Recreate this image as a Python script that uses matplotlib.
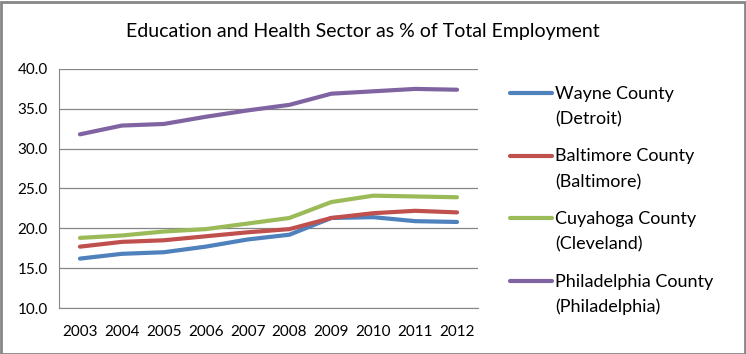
import matplotlib
matplotlib.use("Agg")
import matplotlib.pyplot as plt
from matplotlib.lines import Line2D
from matplotlib.patches import Rectangle

plt.rcParams['font.family'] = ['Lato', 'DejaVu Sans']

years = [2003, 2004, 2005, 2006, 2007, 2008, 2009, 2010, 2011, 2012]
wayne = [16.2, 16.8, 17.0, 17.7, 18.6, 19.2, 21.3, 21.4, 20.9, 20.8]
baltimore = [17.7, 18.3, 18.5, 19.0, 19.5, 19.9, 21.3, 21.9, 22.2, 22.0]
cuyahoga = [18.8, 19.1, 19.6, 19.9, 20.6, 21.3, 23.3, 24.1, 24.0, 23.9]
philadelphia = [31.8, 32.9, 33.1, 34.0, 34.8, 35.5, 36.9, 37.2, 37.5, 37.4]

labels = ["Wayne County\n(Detroit)", "Baltimore County\n(Baltimore)",
          "Cuyahoga County\n(Cleveland)", "Philadelphia County\n(Philadelphia)"]
colors = ["#4F81BD", "#C0504D", "#9BBB59", "#8064A2"]

W, H = 746, 354
fig = plt.figure(figsize=(W / 100, H / 100), dpi=100)
ax = fig.add_axes([59 / W, 1 - 308 / H, (478 - 59) / W, (308 - 69) / H])

x = list(range(len(years)))
for vals, lab, c in zip([wayne, baltimore, cuyahoga, philadelphia], labels, colors):
    ax.plot(x, vals, color=c, lw=3, label=lab, solid_capstyle='round')

ax.set_xlim(-0.5, len(years) - 0.5)
ax.set_ylim(10, 40)
ax.set_yticks([10, 15, 20, 25, 30, 35, 40])
ax.set_yticklabels([f"{v:.1f}" for v in [10, 15, 20, 25, 30, 35, 40]])
ax.set_xticks(x)
ax.set_xticklabels([str(y) for y in years])
ax.grid(axis='y', color='#868686', lw=0.9)
ax.set_axisbelow(True)
for s in ['top', 'right']:
    ax.spines[s].set_visible(False)
for s in ['left', 'bottom']:
    ax.spines[s].set_color('#868686')
ax.tick_params(axis='both', length=0, labelsize=11, colors='black', pad=8)
ax.tick_params(axis='x', pad=12)

fig.text(363 / W, 1 - 32 / H, "Education and Health Sector as % of Total Employment",
         ha='center', va='center', fontsize=14)

# legend drawn by hand: handle next to the first line of each two-line label
for i, (lab, c) in enumerate(zip(labels, colors)):
    y0 = 93 + 62.5 * i
    fig.add_artist(Line2D([510 / W, 552 / W], [1 - y0 / H, 1 - y0 / H],
                          transform=fig.transFigure, color=c, lw=3, solid_capstyle='round'))
    for j, part in enumerate(lab.split("\n")):
        fig.text(555 / W, 1 - (y0 + 1 + 25.5 * j) / H, part, ha='left', va='center',
                 fontsize=13)

fig.add_artist(Rectangle((0.5 / W, 0.5 / H), 1 - 2 / W, 1 - 2 / H, transform=fig.transFigure,
                         fill=False, edgecolor='#868686', lw=2))

fig.savefig("out.png", dpi=100)
